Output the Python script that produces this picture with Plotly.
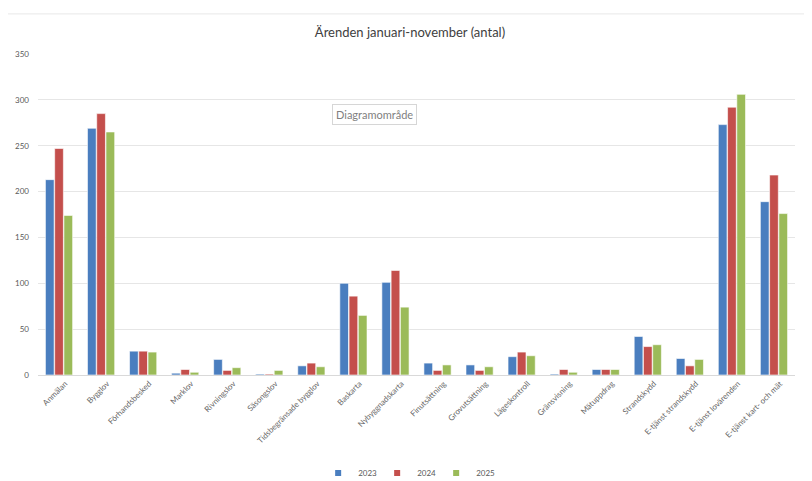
import plotly.graph_objects as go

categories = ["Anmälan", "Bygglov", "Förhandsbesked", "Marklov", "Rivningslov", "Säsongslov",
              "Tidsbegränsade bygglov", "Baskarta", "Nybyggnadskarta", "Finutsättning",
              "Grovutsättning", "Lägeskontroll", "Gränsvisning", "Mätuppdrag", "Strandskydd",
              "E-tjänst strandskydd", "E-tjänst lovärenden", "E-tjänst kart- och mät"]
v2023 = [213, 269, 26, 2, 17, 1, 10, 100, 101, 13, 11, 20, 1, 6, 42, 18, 273, 189]
v2024 = [247, 285, 26, 6, 5, 1, 13, 86, 114, 5, 5, 25, 6, 6, 31, 10, 292, 218]
v2025 = [174, 265, 25, 3, 8, 5, 9, 65, 74, 11, 9, 21, 3, 6, 33, 17, 306, 176]
series_names = ["2023", "2024", "2025"]
colors = ["#4a7ebf", "#c44f4c", "#9bbb59"]

fig = go.Figure()
for name, vals, col in zip(series_names, [v2023, v2024, v2025], colors):
    fig.add_trace(go.Bar(x=categories, y=vals, name=name, legendgroup=name, showlegend=False,
                         marker=dict(color=col, line=dict(color="white", width=0.6))))
# legend entries with small square swatches
for name, col in zip(series_names, colors):
    fig.add_trace(go.Scatter(x=[None], y=[None], mode="markers", name=name, legendgroup=name,
                             marker=dict(symbol="square", size=6, color=col), hoverinfo="skip"))

font_fam = "Lato, Open Sans, sans-serif"
fig.update_layout(
    width=804, height=473,
    margin=dict(l=30, r=17, t=46, b=106, autoexpand=False),
    paper_bgcolor="white", plot_bgcolor="white",
    barmode="group", bargap=0.34, bargroupgap=0.06,
    title=dict(text="Ärenden januari-november (antal)", x=0.5, xanchor="center", y=0.949, yanchor="middle",
               font=dict(family=font_fam, size=13, color="#404040")),
    font=dict(family=font_fam, color="#595959"),
    xaxis=dict(tickangle=-45, tickfont=dict(size=8, color="#666666"), showgrid=False, automargin=False,
               showline=True, linecolor="#d9d9d9", linewidth=1, ticks="", ticklabelshift=6),
    yaxis=dict(range=[0, 350], dtick=50, tickfont=dict(size=8, color="#595959"), showgrid=True,
               gridcolor="#e6e6e6", gridwidth=1, zeroline=False, showline=False, ticks="",
               ticklabelstandoff=8, automargin=False),
    legend=dict(orientation="h", x=0.487, xanchor="center", y=-0.305, yanchor="middle",
                font=dict(size=8, color="#595959"), itemwidth=30, traceorder="normal",
                entrywidth=14, entrywidthmode="pixels"),
    showlegend=True,
)
fig.add_shape(type="line", xref="paper", yref="paper", x0=-0.04, x1=1.03, y0=1.125, y1=1.125,
              line=dict(color="#e8e8e8", width=1))
fig.add_annotation(text="Diagramområde", xref="paper", yref="paper", x=0.444, y=0.844,
                   showarrow=False, font=dict(family=font_fam, size=11, color="#7f7f7f"),
                   bgcolor="white", bordercolor="#d6d6d6", borderwidth=1, borderpad=3)
fig.write_html("out.html")
